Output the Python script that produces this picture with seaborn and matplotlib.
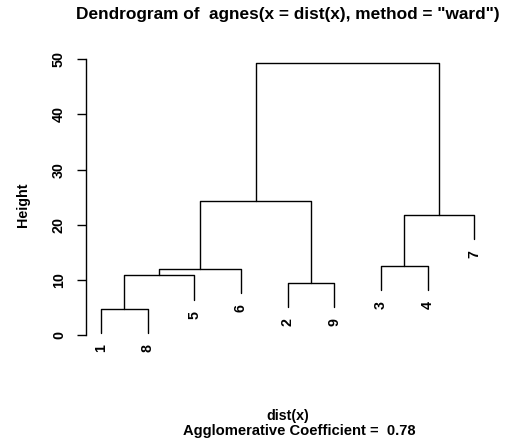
import matplotlib
matplotlib.use("Agg")
import matplotlib.pyplot as plt
import seaborn as sns
import pandas as pd
import numpy as np

# %% data: agnes merge table (R style: negative = leaf, positive = earlier merge)
leaf_order = [1, 8, 5, 6, 2, 9, 3, 4, 7]
merge_left = [-1, 1, 2, -2, 3, -3, 6, 5]
merge_right = [-8, -5, -6, -9, 4, -4, -7, 7]
merge_height = [4.8, 10.8, 12.0, 9.5, 24.3, 12.6, 21.8, 49.3]
y_ticks = [0, 10, 20, 30, 40, 50]
agglomerative_coef = 0.78

# %% build dendrogram segments
hang = 0.1 * (max(merge_height) - min(merge_height))
leaf_x = {leaf: i + 1 for i, leaf in enumerate(leaf_order)}
node_x = {}
segs = []
leaf_bottom = {}


def child_pos(c, parent_h):
    if c < 0:
        leaf = -c
        bottom = parent_h - hang
        leaf_bottom[leaf] = bottom
        return leaf_x[leaf], bottom
    return node_x[c], merge_height[c - 1]


for i, (l, r, h) in enumerate(zip(merge_left, merge_right, merge_height)):
    xl, yl = child_pos(l, h)
    xr, yr = child_pos(r, h)
    node_x[i + 1] = (xl + xr) / 2
    segs.append([(xl, yl), (xl, h), (xr, h), (xr, yr)])

rows = []
for k, pts in enumerate(segs):
    for j, (x, y) in enumerate(pts):
        rows.append({"seg": k, "ord": j, "x": x, "y": y})
df = pd.DataFrame(rows)

# %% plot
sns.set_style("white")
plt.rcParams["font.family"] = ["Liberation Sans", "DejaVu Sans"]
plt.rcParams["font.weight"] = "bold"
plt.rcParams["text.color"] = "black"
plt.rcParams["ytick.color"] = "black"

fig = plt.figure(figsize=(5.07, 4.44), dpi=100)
ax = fig.add_axes([86.1 / 507, (444 - 343.3) / 444, (489.2 - 86.1) / 507, (343.3 - 51.0) / 444])

sns.lineplot(data=df, x="x", y="y", units="seg", estimator=None, sort=False,
             color="black", linewidth=1.0, ax=ax)

small = 10.3
for leaf in leaf_order:
    ax.annotate(str(leaf), xy=(leaf_x[leaf], leaf_bottom[leaf]), xytext=(0, -10.8),
                textcoords="offset points", rotation=90, ha="center", va="center",
                fontsize=small, fontweight="bold", color="black")

ax.set_xlim(0.68, 9.32)
ax.set_ylim(-1.5, 51.5)
ax.set_xticks([])
ax.set_yticks(y_ticks)
ax.set_yticklabels([str(t) for t in y_ticks], rotation=90, va="center",
                   fontsize=small, fontweight="bold", color="black")
ax.tick_params(axis="y", left=True, direction="out", length=6.5, width=1.0,
               pad=8, color="black")
for s in ["top", "right", "bottom"]:
    ax.spines[s].set_visible(False)
ax.spines["left"].set_bounds(0, 50)
ax.spines["left"].set_linewidth(1.0)
ax.spines["left"].set_color("black")
ax.set_xlabel("")
ax.set_ylabel("")

fig.text(23 / 507, 1 - 205 / 444, "Height", rotation=90, ha="center", va="center",
         fontsize=small, fontweight="bold")
fig.text(288 / 507, 1 - 15 / 444, 'Dendrogram of  agnes(x = dist(x), method = "ward")',
         ha="center", va="center", fontsize=12.4, fontweight="bold")
fig.text(288 / 507, 1 - 416 / 444, "dist(x)", ha="center", va="center",
         fontsize=small, fontweight="bold")
fig.text(299 / 507, 1 - 431 / 444, "Agglomerative Coefficient =  %.2f" % agglomerative_coef,
         ha="center", va="center", fontsize=10.6, fontweight="bold")

fig.savefig("out.png", dpi=100)
